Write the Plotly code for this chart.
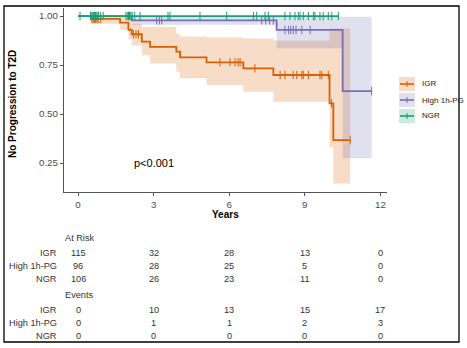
import numpy as np
import plotly.graph_objects as go

# Kaplan-Meier step estimates: step start times, survival, 95% CI bounds
igr_t = [0, 0.54, 1.67, 2.0, 2.13, 2.53, 2.86, 3.9, 4.05, 5.1, 6.56, 7.75, 9.98, 10.13]
igr_s = [1.0, 0.985, 0.966, 0.93, 0.907, 0.869, 0.843, 0.818, 0.789, 0.764, 0.733, 0.699, 0.554, 0.367]
igr_lo = [1.0, 0.96, 0.93, 0.88, 0.85, 0.80, 0.758, 0.716, 0.682, 0.648, 0.614, 0.563, 0.33, 0.146]
igr_hi = [1.0, 1.0, 1.0, 0.975, 0.96, 0.945, 0.945, 0.91, 0.895, 0.89, 0.885, 0.875, 0.937, 0.937]
igr_end = 10.8

hp_t = [0, 2.13, 7.88, 10.5]
hp_s = [1.0, 0.978, 0.929, 0.617]
hp_lo = [1.0, 0.955, 0.835, 0.274]
hp_hi = [1.0, 1.0, 0.996, 0.996]
hp_end = 11.65

ngr_t = [0]
ngr_s = [1.0]
ngr_lo = [1.0]
ngr_hi = [1.0]
ngr_end = 10.35

# censoring times
igr_cens = [0.55, 0.6, 0.65, 0.7, 0.75, 0.8, 0.9, 2.2, 2.3, 2.4, 5.63, 6.03, 6.23, 6.35,
            6.43, 7.02, 8.02, 8.21, 8.54, 8.68, 8.88, 8.94, 9.14, 9.6, 9.67, 9.93, 10.06, 10.8]
hp_cens = [0.5, 0.6, 0.7, 0.8, 1.9, 2.0, 2.05, 3.12, 3.23, 3.32, 7.29, 7.45, 7.6, 7.75,
           8.21, 8.35, 8.44, 8.54, 8.65, 8.88, 9.21, 11.65]
ngr_cens = [0.08, 0.5, 0.55, 0.6, 0.65, 0.7, 0.75, 0.8, 0.9, 1.0, 1.95, 2.0, 2.05, 2.1, 2.15,
            2.25, 2.46, 3.57, 3.65, 4.84, 5.9, 6.96, 7.09, 7.42, 7.55, 8.21, 8.41, 8.61, 8.74,
            8.81, 8.94, 9.14, 9.34, 9.40, 9.60, 9.73, 9.93, 10.07, 10.33]

groups = ["IGR", "High 1h-PG", "NGR"]
colors = ["#D95F02", "#7570B3", "#1B9E77"]
fills = ["rgba(217,95,2,0.22)", "rgba(117,112,179,0.22)", "rgba(27,158,119,0.22)"]

# risk table
table_times = [0, 3, 6, 9, 12]
risk_igr = [115, 32, 28, 13, 0]
risk_hp = [96, 28, 25, 5, 0]
risk_ngr = [106, 26, 23, 11, 0]
ev_igr = [0, 10, 13, 15, 17]
ev_hp = [0, 1, 1, 2, 3]
ev_ngr = [0, 0, 0, 0, 0]

W, H = 467, 348
L, R, T, B = 64, 387, 8, 192


def px_x(p):
    return (p - L) / (R - L)


def px_y(p):
    return (B - p) / (B - T)


def step_xy(t, v, end):
    return list(t) + [end], list(v) + [v[-1]]


def surv_at(t, s, x):
    idx = np.searchsorted(np.asarray(t), np.asarray(x), side="right") - 1
    return np.asarray(s)[idx]


fig = go.Figure()
series = [
    (igr_t, igr_s, igr_lo, igr_hi, igr_end, igr_cens),
    (hp_t, hp_s, hp_lo, hp_hi, hp_end, hp_cens),
    (ngr_t, ngr_s, ngr_lo, ngr_hi, ngr_end, ngr_cens),
]

# confidence bands
for (t, s, lo, hi, end, cens), col, fc in zip(series, colors, fills):
    x, ylo = step_xy(t, lo, end)
    _, yhi = step_xy(t, hi, end)
    fig.add_trace(go.Scatter(x=x, y=ylo, mode="lines", line=dict(width=0, shape="hv"),
                             hoverinfo="skip", showlegend=False))
    fig.add_trace(go.Scatter(x=x, y=yhi, mode="lines", line=dict(width=0, shape="hv"),
                             fill="tonexty", fillcolor=fc, hoverinfo="skip", showlegend=False))

# survival curves and censor ticks (NGR drawn last, on top)
for (t, s, lo, hi, end, cens), col, name in zip(series, colors, groups):
    x, y = step_xy(t, s, end)
    fig.add_trace(go.Scatter(x=x, y=y, mode="lines", name=name,
                             line=dict(color=col, width=1.8, shape="hv"), showlegend=False))
    fig.add_trace(go.Scatter(x=cens, y=surv_at(t, s, cens), mode="markers", showlegend=False,
                             marker=dict(symbol="line-ns", size=6, color=col,
                                         line=dict(color=col, width=1))))

font_fam = "Liberation Sans, Arial, sans-serif"
ann = []
shapes = []


def label(text, x, y, xref="paper", xanchor="center", size=9.2, color="#333", **kw):
    ann.append(dict(text=text, xref=xref, yref="paper", x=x, y=y, xanchor=xanchor,
                    yanchor="middle", showarrow=False, font=dict(size=size, color=color), **kw))


# outer frame
shapes.append(dict(type="rect", xref="paper", yref="paper", x0=px_x(4), x1=px_x(459),
                   y0=px_y(342), y1=px_y(6), line=dict(color="black", width=1.3)))

# axis titles
label("<b>No Progression to T2D</b>", px_x(12), px_y(104), size=10, color="black",
      textangle=-90)
label("<b>Years</b>", px_x(225), px_y(214), size=10, color="black")

# p-value
ann.append(dict(text="p<0.001", x=3, y=0.25, xref="x", yref="y", xanchor="center",
                yanchor="middle", showarrow=False, font=dict(size=11, color="black")))

# legend keys
leg_y = [84, 100, 116]
for name, col, fc, yc in zip(groups, colors, fills, leg_y):
    shapes.append(dict(type="rect", xref="paper", yref="paper", x0=px_x(399), x1=px_x(415),
                       y0=px_y(yc + 7), y1=px_y(yc - 7), fillcolor=fc, line=dict(width=0)))
    shapes.append(dict(type="line", xref="paper", yref="paper", x0=px_x(400), x1=px_x(414),
                       y0=px_y(yc), y1=px_y(yc), line=dict(color=col, width=1.6)))
    shapes.append(dict(type="line", xref="paper", yref="paper", x0=px_x(407), x1=px_x(407),
                       y0=px_y(yc + 3), y1=px_y(yc - 3), line=dict(color=col, width=1)))
    label(name, px_x(420), px_y(yc), xanchor="left", size=8, color="#222")

# risk / events table
label("At Risk", px_x(63), px_y(238), xanchor="left")
label("Events", px_x(63), px_y(295), xanchor="left")
rows = [
    (groups[0], risk_igr, 253), (groups[1], risk_hp, 266), (groups[2], risk_ngr, 279),
    (groups[0], ev_igr, 310), (groups[1], ev_hp, 323), (groups[2], ev_ngr, 336),
]
for name, vals, yp in rows:
    label(name, px_x(59), px_y(yp), xanchor="right")
    for tt, v in zip(table_times, vals):
        label(str(v), tt, px_y(yp), xref="x")

fig.update_layout(
    width=W, height=H,
    margin=dict(l=L, r=W - R, t=T, b=H - B),
    paper_bgcolor="white", plot_bgcolor="white",
    font=dict(family=font_fam),
    annotations=ann, shapes=shapes,
    showlegend=False,
)
fig.update_xaxes(range=[-0.556, 12.26], tickvals=table_times, showgrid=False, zeroline=False,
                 showline=True, linecolor="#555", linewidth=1, ticks="outside", ticklen=3,
                 tickcolor="#555", tickfont=dict(size=9.8, color="#4D4D4D"),
                 ticklabelstandoff=0)
fig.update_yaxes(range=[0.102, 1.041], tickvals=[0.25, 0.5, 0.75, 1.0],
                 ticktext=["0.25", "0.50", "0.75", "1.00"], showgrid=False, zeroline=False,
                 showline=True, linecolor="#555", linewidth=1, ticks="outside", ticklen=3,
                 tickcolor="#555", tickfont=dict(size=9.8, color="#4D4D4D"))

fig.write_html("out.html")
